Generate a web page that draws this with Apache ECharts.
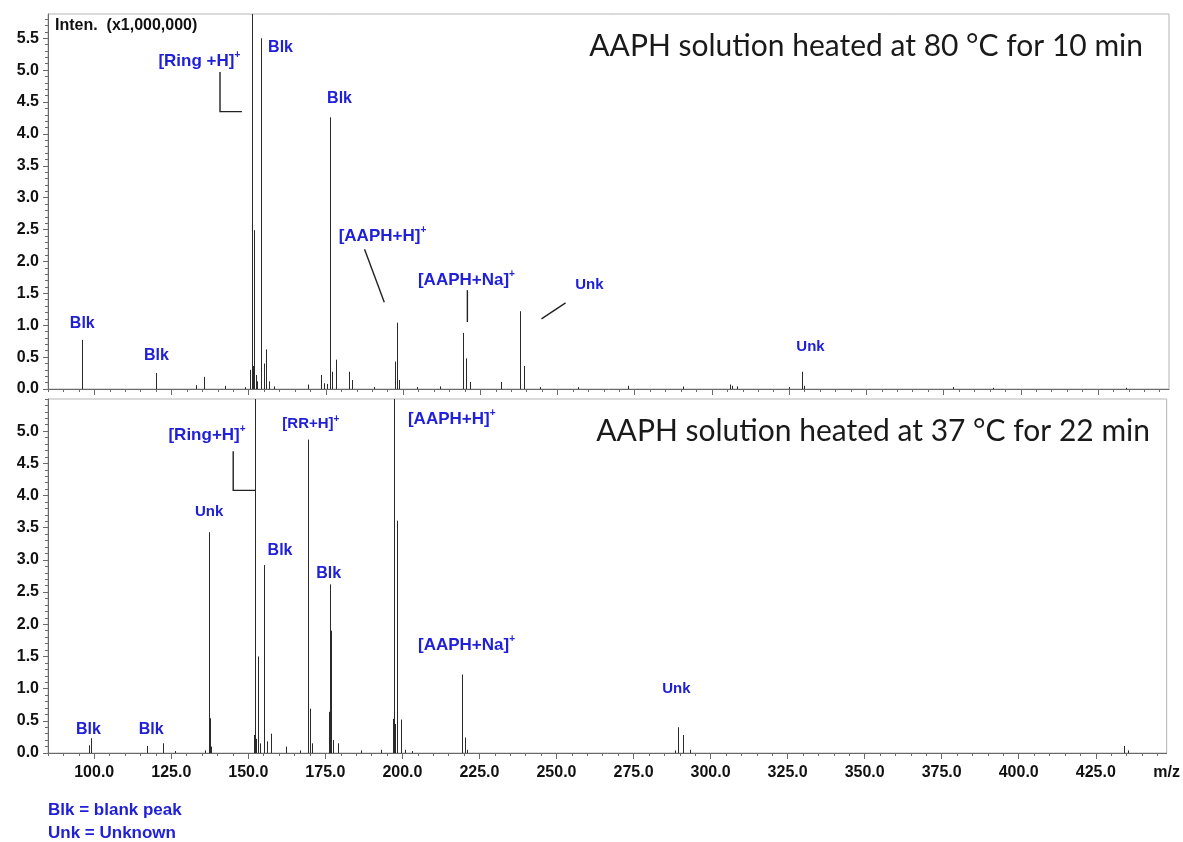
<!DOCTYPE html>
<html>
<head>
<meta charset="utf-8">
<script src="https://cdn.jsdelivr.net/npm/echarts@6/dist/echarts.min.js"></script>
<style>
  html, body { margin: 0; padding: 0; background: #fff; }
  #chart { width: 1183px; height: 842px; }
</style>
</head>
<body>
<div id="chart"></div>
<script>
// ---- m/z axis ----
const mzMin = 85;
const mzMax = 448;
const mzTickLabels = [100, 125, 150, 175, 200, 225, 250, 275, 300, 325, 350, 375, 400, 425];

// ---- intensity axes (x1,000,000) ----
const topIntensityMax = 5.88;
const bottomIntensityMax = 5.5;
const topIntensityTicks = [0, 0.5, 1.0, 1.5, 2.0, 2.5, 3.0, 3.5, 4.0, 4.5, 5.0, 5.5];
const bottomIntensityTicks = [0, 0.5, 1.0, 1.5, 2.0, 2.5, 3.0, 3.5, 4.0, 4.5, 5.0];

// ---- spectra: [m/z, intensity x1e6]; off-scale peaks run past the frame ----
const spectrum80C = [
  [96.1, 0.77], [120.0, 0.25], [132.9, 0.06], [135.4, 0.19], [142.3, 0.05],
  [148.8, 0.03], [150.5, 0.30], [150.9, 8.00], [151.3, 0.36], [151.8, 2.49],
  [152.3, 0.22], [152.7, 0.12], [154.0, 5.50], [154.8, 0.40], [155.7, 0.62],
  [156.5, 0.12], [158.2, 0.04], [169.3, 0.07], [173.4, 0.22], [174.5, 0.09],
  [175.4, 0.08], [176.35, 4.26], [177.1, 0.27], [178.4, 0.46], [182.6, 0.27],
  [183.6, 0.14], [190.5, 0.03], [197.4, 0.43], [198.1, 1.04], [198.8, 0.14],
  [204.5, 0.03], [212.0, 0.04], [219.5, 0.88], [220.4, 0.48], [221.5, 0.11],
  [231.7, 0.11], [237.9, 1.22], [239.0, 0.36], [244.2, 0.03], [256.5, 0.03],
  [272.7, 0.05], [290.5, 0.04], [305.7, 0.07], [306.6, 0.05], [308.0, 0.04],
  [325.0, 0.03], [329.0, 0.27], [329.8, 0.05], [378.0, 0.03], [391.0, 0.02],
  [434.0, 0.02]
];

const spectrum37C = [
  [98.15, 0.12], [98.9, 0.23], [117.0, 0.11], [122.4, 0.15], [126.3, 0.03],
  [135.8, 0.04], [137.1, 3.43], [137.5, 0.54], [138.0, 0.10], [151.8, 0.28],
  [152.15, 8.00], [152.6, 0.22], [153.2, 1.50], [153.7, 0.15], [155.1, 2.92],
  [156.1, 0.18], [157.2, 0.30], [162.3, 0.10], [166.7, 0.04], [169.3, 4.87],
  [170.1, 0.69], [170.6, 0.15], [176.1, 0.64], [176.35, 2.62], [176.9, 1.90],
  [177.4, 0.20], [179.1, 0.15], [186.5, 0.04], [193.0, 0.05], [197.1, 0.53],
  [197.4, 8.00], [197.7, 0.45], [198.25, 3.61], [199.4, 0.52], [201.0, 0.05],
  [203.0, 0.03], [219.3, 1.22], [220.2, 0.24], [221.0, 0.05], [288.4, 0.04],
  [289.3, 0.40], [291.2, 0.28], [293.3, 0.05], [434.0, 0.11], [435.5, 0.04]
];

// ---- peak annotations, anchored in data space (label centre) ----
const labels80C = [
  { text: 'Blk', mz: 96.1, inten: 1.03 },
  { text: 'Blk', mz: 120.1, inten: 0.52 },
  { ion: '[Ring +H]', mz: 134.0, inten: 5.14 },
  { text: 'Blk', mz: 160.3, inten: 5.36 },
  { text: 'Blk', mz: 179.4, inten: 4.56 },
  { ion: '[AAPH+H]', mz: 193.3, inten: 2.40 },
  { ion: '[AAPH+Na]', mz: 220.5, inten: 1.71 },
  { text: 'Unk', mz: 260.3, inten: 1.63 },
  { text: 'Unk', mz: 331.9, inten: 0.66 }
];
const labels37C = [
  { text: 'Blk', mz: 98.1, inten: 0.37 },
  { text: 'Blk', mz: 118.5, inten: 0.36 },
  { text: 'Unk', mz: 137.3, inten: 3.74 },
  { ion: '[Ring+H]', mz: 136.6, inten: 4.94 },
  { text: 'Blk', mz: 160.3, inten: 3.14 },
  { ion: '[RR+H]', mz: 170.3, inten: 5.11 },
  { text: 'Blk', mz: 176.1, inten: 2.78 },
  { ion: '[AAPH+H]', mz: 216.0, inten: 5.19 },
  { ion: '[AAPH+Na]', mz: 220.8, inten: 1.68 },
  { text: 'Unk', mz: 288.9, inten: 0.99 }
];

// ---- leader lines from labels to peaks, as [m/z, intensity] vertices ----
const leaders80C = [
  [[140.7, 4.97], [140.7, 4.35], [147.8, 4.35]],
  [[187.5, 2.19], [193.9, 1.36]],
  [[220.8, 1.55], [220.8, 1.05]],
  [[252.6, 1.35], [244.8, 1.10]]
];
const leaders37C = [
  [[145.1, 4.69], [145.1, 4.08], [152.2, 4.08]]
];

const panelTitles = [
  'AAPH solution heated at 80 \u00B0C for 10 min',
  'AAPH solution heated at 37 \u00B0C for 22 min'
];
const footnotes = ['Blk = blank peak', 'Unk = Unknown'];
const intensityUnit = 'Inten.  (x1,000,000)';

// ---------------------------------------------------------------
const BLUE = '#2020d8';
const INK = '#111';
const AXIS = '#6a6a6a';
const SANS = '"Liberation Sans", Arial, Helvetica, sans-serif';
const TITLE_FONT = 'Lato, "Open Sans", sans-serif';

function steps(from, to, step) {
  const out = [];
  for (let v = from; v <= to + 1e-9; v += step) out.push(+v.toFixed(4));
  return out;
}
const mzMinorTicks = steps(mzMin, mzMax, 5);
const topMinorTicks = steps(0, topIntensityMax, 0.1);
const bottomMinorTicks = steps(0, bottomIntensityMax, 0.1);

function xAxes(gridIndex, withLabels) {
  return [
    {
      gridIndex, type: 'value', position: 'bottom', min: mzMin, max: mzMax,
      axisLine: { show: true, onZero: false, lineStyle: { color: AXIS, width: 1 } },
      axisTick: { show: true, customValues: mzTickLabels, length: 6, lineStyle: { color: AXIS } },
      axisLabel: withLabels ? {
        show: true,
        customValues: mzTickLabels.concat([mzMax]),
        formatter: v => (v === mzMax ? 'm/z' : v.toFixed(1)),
        fontFamily: SANS, fontSize: 16, fontWeight: 'bold', color: INK, margin: 12
      } : { show: false },
      splitLine: { show: false }
    },
    {
      gridIndex, type: 'value', position: 'bottom', min: mzMin, max: mzMax,
      axisLine: { show: false },
      axisTick: { show: true, customValues: mzMinorTicks, length: 3, lineStyle: { color: AXIS } },
      axisLabel: { show: false },
      splitLine: { show: false }
    }
  ];
}

function yAxes(gridIndex, max, ticks, minor) {
  return [
    {
      gridIndex, type: 'value', position: 'left', min: 0, max,
      axisLine: { show: true, lineStyle: { color: AXIS, width: 1 } },
      axisTick: { show: true, customValues: ticks, length: 5, lineStyle: { color: AXIS } },
      axisLabel: {
        show: true, customValues: ticks, formatter: v => v.toFixed(1),
        fontFamily: SANS, fontSize: 16, fontWeight: 'bold', color: INK, margin: 9
      },
      splitLine: { show: false }
    },
    {
      gridIndex, type: 'value', position: 'left', min: 0, max,
      axisLine: { show: false },
      axisTick: { show: true, customValues: minor, length: 3, lineStyle: { color: AXIS } },
      axisLabel: { show: false },
      splitLine: { show: false }
    }
  ];
}

function spectrumSeries(data, xi, yi) {
  return {
    type: 'custom', xAxisIndex: xi, yAxisIndex: yi, clip: true, silent: true,
    data, encode: { x: 0, y: 1 },
    renderItem: (params, api) => {
      const base = api.coord([api.value(0), 0]);
      const top = api.coord([api.value(0), api.value(1)]);
      const x = Math.round(base[0]) + 0.5;
      return {
        type: 'line',
        shape: { x1: x, y1: base[1], x2: x, y2: top[1] },
        style: { stroke: '#2a2a2a', lineWidth: 1 }
      };
    }
  };
}

function leaderSeries(leaders, xi, yi) {
  return {
    type: 'custom', xAxisIndex: xi, yAxisIndex: yi, clip: true, silent: true,
    data: leaders.map((pts, i) => [pts[0][0], pts[0][1], i]),
    encode: { x: 0, y: 1 },
    renderItem: (params, api) => {
      const pts = leaders[api.value(2)].map(p => api.coord(p));
      return {
        type: 'polyline',
        shape: { points: pts },
        style: { stroke: '#222', lineWidth: 1.4, fill: null }
      };
    }
  };
}

function labelSeries(labels, xi, yi) {
  return {
    type: 'custom', xAxisIndex: xi, yAxisIndex: yi, clip: false, silent: true,
    data: labels.map((l, i) => [l.mz, l.inten, i]),
    encode: { x: 0, y: 1 },
    renderItem: (params, api) => {
      const l = labels[api.value(2)];
      const p = api.coord([l.mz, l.inten]);
      let text, rich;
      if (l.ion) {
        const size = l.ion === '[RR+H]' ? 15 : 17;
        text = '{b|' + l.ion + '}{s|+}';
        rich = {
          b: { fontSize: size, fontWeight: 'bold', fontFamily: SANS, fill: BLUE, lineHeight: size + 4 },
          s: { fontSize: 10, fontWeight: 'bold', fontFamily: SANS, fill: BLUE, lineHeight: 12, verticalAlign: 'top' }
        };
      } else {
        const size = l.text === 'Unk' ? 15 : 16;
        text = '{b|' + l.text + '}';
        rich = { b: { fontSize: size, fontWeight: 'bold', fontFamily: SANS, fill: BLUE } };
      }
      return {
        type: 'text', x: p[0], y: p[1],
        style: { text, rich, align: 'center', verticalAlign: 'middle' }
      };
    }
  };
}

const chart = echarts.init(document.getElementById('chart'), null, { renderer: 'canvas' });

chart.setOption({
  animation: false,
  backgroundColor: '#fff',
  grid: [
    { left: 48, right: 14, top: 14, height: 375, show: true, borderColor: '#b5b5b5', borderWidth: 1, containLabel: false },
    { left: 48, right: 14, top: 399, height: 354, show: true, borderColor: '#b5b5b5', borderWidth: 1, containLabel: false }
  ],
  xAxis: xAxes(0, false).concat(xAxes(1, true)),
  yAxis: yAxes(0, topIntensityMax, topIntensityTicks, topMinorTicks)
    .concat(yAxes(1, bottomIntensityMax, bottomIntensityTicks, bottomMinorTicks)),
  series: [
    spectrumSeries(spectrum80C, 0, 0),
    leaderSeries(leaders80C, 0, 0),
    labelSeries(labels80C, 0, 0),
    spectrumSeries(spectrum37C, 2, 2),
    leaderSeries(leaders37C, 2, 2),
    labelSeries(labels37C, 2, 2)
  ],
  graphic: [
    {
      type: 'text', x: 55, y: 26, z: 10,
      style: { text: intensityUnit, fontFamily: SANS, fontSize: 16, fontWeight: 'bold', fill: INK, align: 'left', verticalAlign: 'middle' }
    },
    {
      type: 'text', x: 1143, y: 46, z: 10,
      style: { text: panelTitles[0], fontFamily: TITLE_FONT, fontSize: 30, fill: '#1a1a1a', align: 'right', verticalAlign: 'middle' }
    },
    {
      type: 'text', x: 1150, y: 431, z: 10,
      style: { text: panelTitles[1], fontFamily: TITLE_FONT, fontSize: 30, fill: '#1a1a1a', align: 'right', verticalAlign: 'middle' }
    },
    {
      type: 'text', x: 48, y: 810, z: 10,
      style: { text: footnotes[0], fontFamily: SANS, fontSize: 17, fontWeight: 'bold', fill: BLUE, align: 'left', verticalAlign: 'middle' }
    },
    {
      type: 'text', x: 48, y: 833, z: 10,
      style: { text: footnotes[1], fontFamily: SANS, fontSize: 17, fontWeight: 'bold', fill: BLUE, align: 'left', verticalAlign: 'middle' }
    }
  ]
});
</script>
</body>
</html>
